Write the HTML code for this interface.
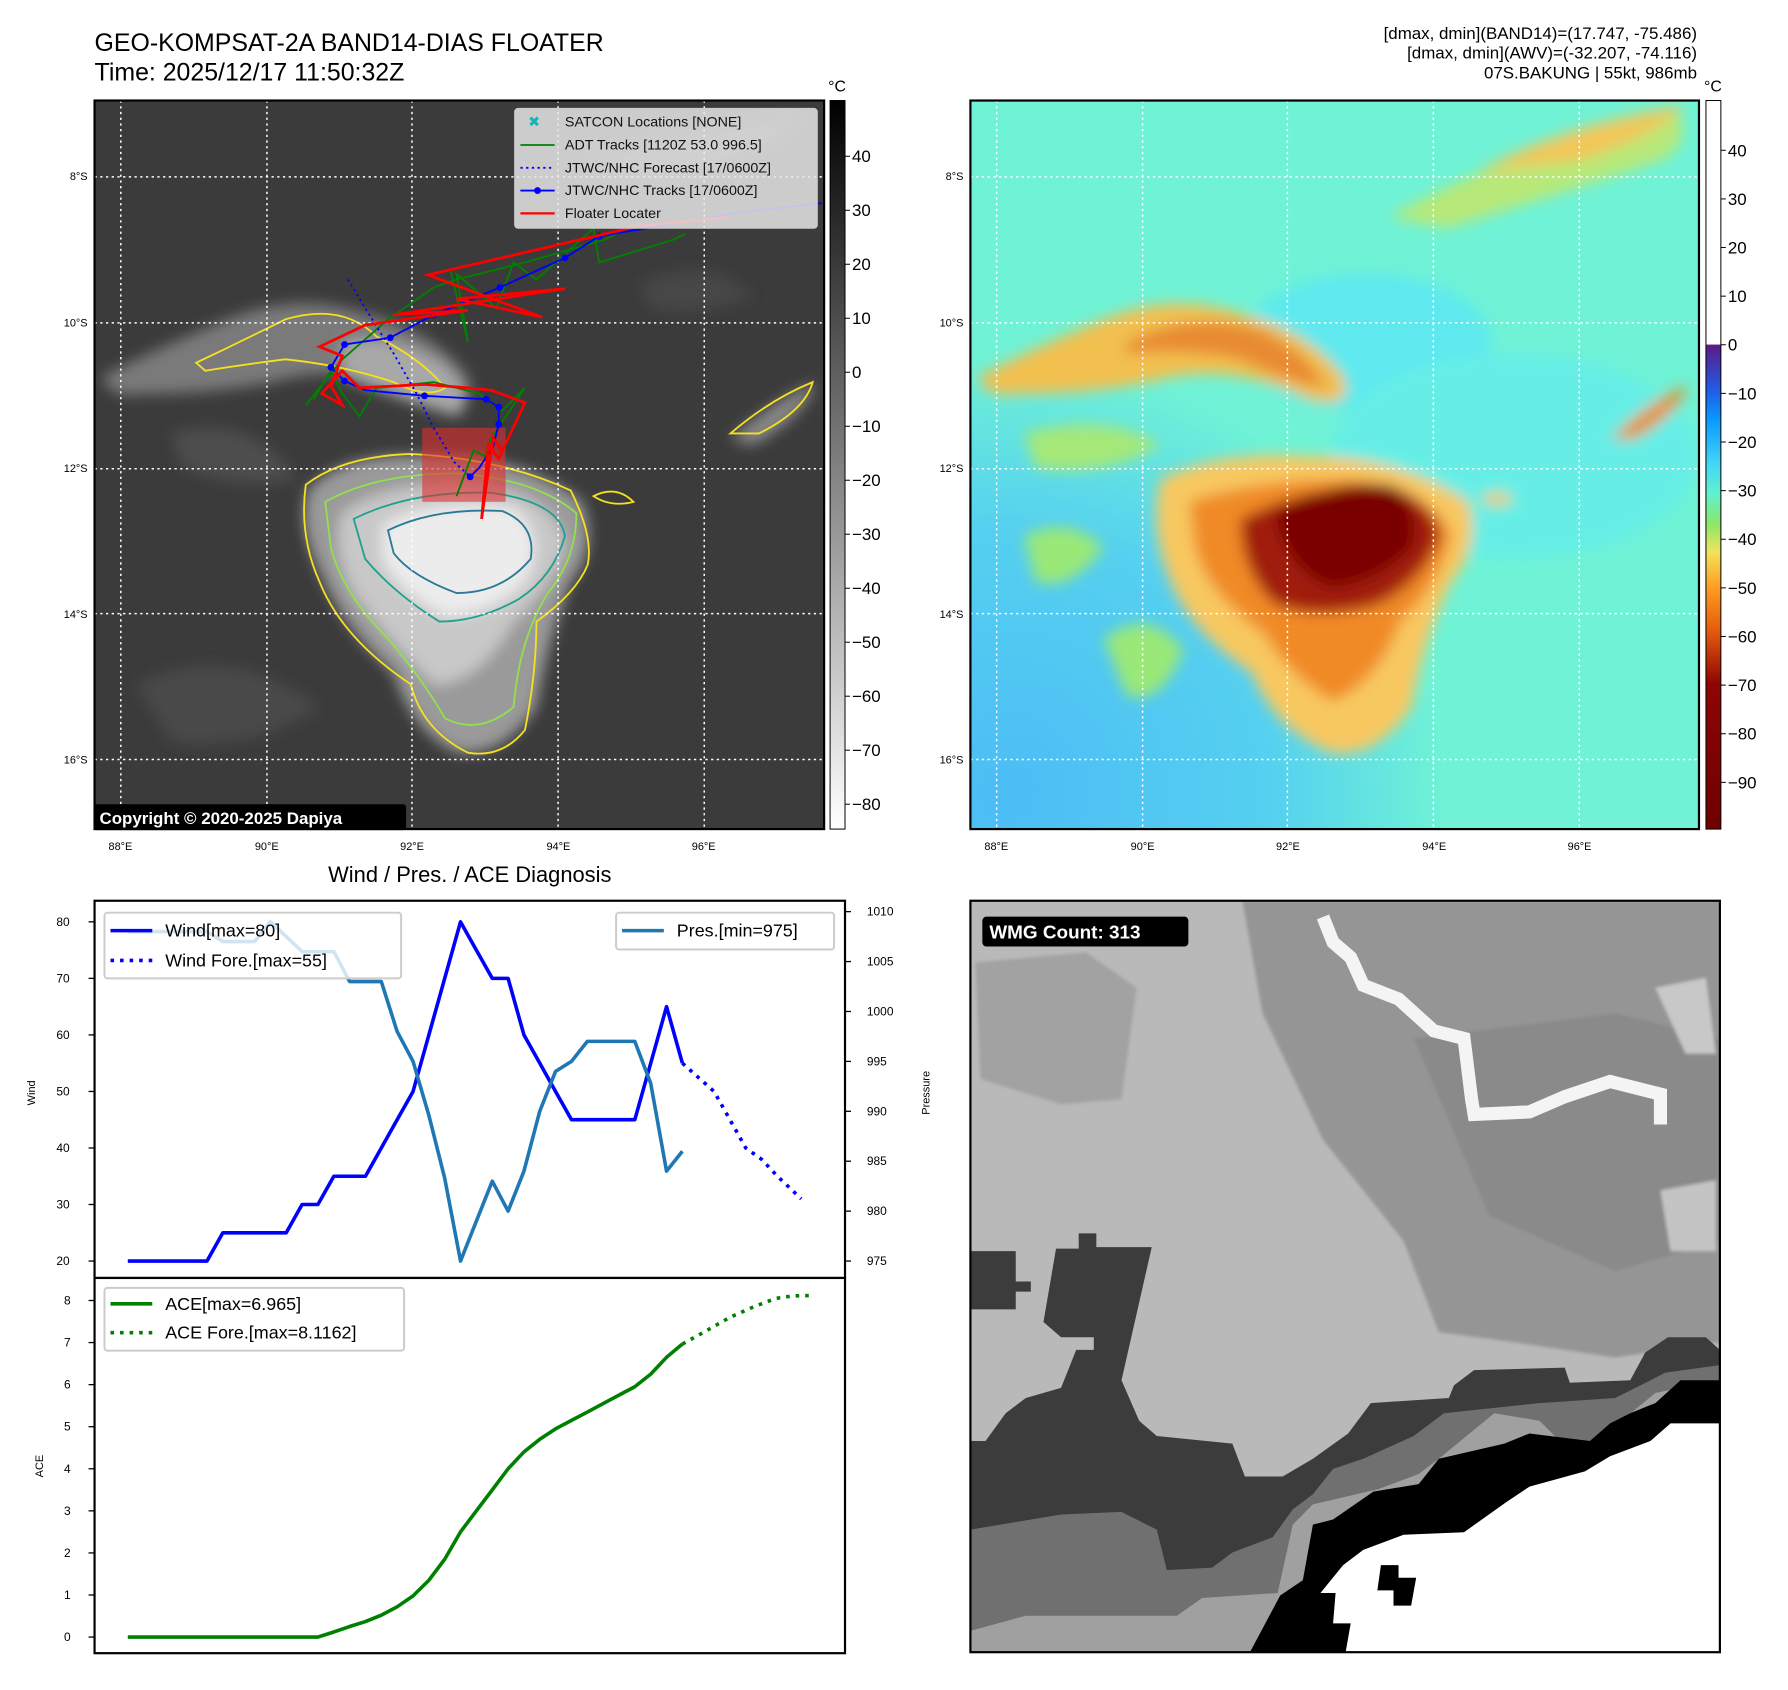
<!DOCTYPE html>
<html><head><meta charset="utf-8">
<style>
html,body{margin:0;padding:0;background:#fff;}
svg{display:block;font-family:"Liberation Sans","DejaVu Sans",sans-serif;}
</style></head>
<body>
<svg id="root" width="1788" height="1690" viewBox="0 0 1788 1690" xmlns="http://www.w3.org/2000/svg">
<defs>
  <filter id="blur6" x="-20%" y="-20%" width="140%" height="140%"><feGaussianBlur stdDeviation="6"/></filter>
  <filter id="blur3" x="-20%" y="-20%" width="140%" height="140%"><feGaussianBlur stdDeviation="3"/></filter>
  <linearGradient id="cbGray" x1="0" y1="0" x2="0" y2="1">
    <stop offset="0" stop-color="#000"/><stop offset="1" stop-color="#fff"/>
  </linearGradient>
  <linearGradient id="cbColor" x1="0" y1="0" x2="0" y2="1">
    <stop offset="0" stop-color="#fff"/><stop offset="0.334" stop-color="#fff"/>
    <stop offset="0.336" stop-color="#5b1a86"/><stop offset="0.40" stop-color="#1f5fe8"/>
    <stop offset="0.44" stop-color="#0a9cff"/><stop offset="0.50" stop-color="#46d6f5"/>
    <stop offset="0.54" stop-color="#60f2cf"/><stop offset="0.58" stop-color="#8be66a"/>
    <stop offset="0.62" stop-color="#f2e35a"/><stop offset="0.67" stop-color="#ff9a22"/>
    <stop offset="0.73" stop-color="#e25a0c"/><stop offset="0.80" stop-color="#8e0404"/>
    <stop offset="1" stop-color="#6e0000"/>
  </linearGradient>
  <radialGradient id="sw" cx="0.05" cy="0.95" r="0.6"><stop offset="0" stop-color="#4cbdf5"/><stop offset="0.6" stop-color="#55d0f0"/><stop offset="1" stop-color="#55d0f0" stop-opacity="0"/></radialGradient>
</defs>
<g id="all" transform="scale(0.9953)">

<text x="95" y="51" font-size="25" fill="#000">GEO-KOMPSAT-2A BAND14-DIAS FLOATER</text>
<text x="95" y="81" font-size="25" fill="#000">Time: 2025/12/17 11:50:32Z</text>
<g font-size="17" text-anchor="end" fill="#000">
  <text x="1705" y="39">[dmax, dmin](BAND14)=(17.747, -75.486)</text>
  <text x="1705" y="59">[dmax, dmin](AWV)=(-32.207, -74.116)</text>
  <text x="1705" y="79">07S.BAKUNG | 55kt, 986mb</text>
</g>

<!-- MAP 1 -->
<svg x="95" y="101" width="733" height="732" viewBox="83 88 639 639" preserveAspectRatio="none">
  <rect x="83" y="88" width="639" height="639" fill="#3b3b3b"/>
  <g filter="url(#blur6)">
    <path d="M90,330 Q150,300 200,280 Q260,255 320,275 Q380,290 410,330 Q420,360 380,350 Q320,320 260,330 Q200,345 130,345 Q95,350 90,330Z" fill="#7a7a7a"/>
    <path d="M300,300 Q340,290 390,320 Q420,350 400,365 Q350,350 300,330Z" fill="#a8a8a8"/>
    <path d="M270,430 Q300,395 380,400 Q460,400 510,440 Q525,480 500,510 Q480,560 470,620 Q440,665 400,660 Q360,640 345,590 Q300,550 280,500 Q260,460 270,430Z" fill="#9a9a9a"/>
    <path d="M300,450 Q340,420 420,425 Q490,435 495,480 Q480,520 450,545 Q420,600 380,600 Q340,560 310,520 Q290,480 300,450Z" fill="#c8c8c8"/>
    <path d="M335,460 Q380,435 450,445 Q480,470 460,510 Q430,540 390,540 Q350,520 335,490Z" fill="#ececec"/>
    <path d="M640,385 Q680,350 715,335 Q705,365 660,390Z" fill="#8a8a8a"/>
    <path d="M520,140 Q600,120 700,100 Q680,130 600,150 Q560,160 520,140Z" fill="#555"/>
    <path d="M120,600 Q200,560 280,620 Q220,660 150,650Z" fill="#4a4a4a"/>
    <path d="M150,380 Q220,360 260,420 Q210,430 160,410Z" fill="#4d4d4d"/>
    <path d="M560,250 Q620,220 660,260 Q610,280 570,270Z" fill="#474747"/>
  </g>
  <g fill="none" stroke-width="1.6">
    <path d="M268,425 Q300,400 360,398 Q440,402 500,430 Q520,470 515,495 Q505,520 470,545 Q470,590 460,640 Q440,665 410,660 Q370,640 360,600 Q300,560 280,510 Q262,470 268,425Z" stroke="#f5e020"/>
    <path d="M285,440 Q330,415 400,415 Q470,420 505,450 Q505,490 480,520 Q455,560 450,620 Q420,645 390,630 Q370,595 340,560 Q300,520 290,480Z" stroke="#90e050"/>
    <path d="M310,455 Q360,430 430,432 Q490,440 495,470 Q485,505 455,525 Q420,545 385,545 Q345,520 320,490Z" stroke="#20a090"/>
    <path d="M340,465 Q380,445 440,448 Q470,460 465,490 Q440,520 400,520 Q360,505 345,485Z" stroke="#2a7a95"/>
    <path d="M172,318 Q210,300 250,280 Q300,265 330,295 Q370,315 390,340 Q375,350 345,335 Q300,320 250,315 Q210,320 180,325Z" stroke="#f5e020"/>
    <path d="M640,380 Q675,350 712,335 Q705,360 665,380Z" stroke="#f5e020"/>
    <path d="M520,435 Q540,425 555,440 Q535,445 520,435Z" stroke="#f5e020"/>
  </g>
  <g stroke="#fff" stroke-width="1.3" stroke-dasharray="2,3">
    <line x1="106" y1="88" x2="106" y2="727"/><line x1="234" y1="88" x2="234" y2="727"/>
    <line x1="361" y1="88" x2="361" y2="727"/><line x1="489" y1="88" x2="489" y2="727"/>
    <line x1="617" y1="88" x2="617" y2="727"/>
    <line x1="83" y1="155" x2="722" y2="155"/><line x1="83" y1="283" x2="722" y2="283"/>
    <line x1="83" y1="411" x2="722" y2="411"/><line x1="83" y1="538" x2="722" y2="538"/>
    <line x1="83" y1="666" x2="722" y2="666"/>
  </g>
  <rect x="370" y="375" width="73" height="65" fill="#e03030" fill-opacity="0.6"/>
  <polyline points="268,355 300,315 340,280 380,252 400,245 460,230 530,210 560,195" fill="none" stroke="#008000" stroke-width="1.6"/>
  <polyline points="395,238 410,300 400,240 435,270 450,230 470,245 520,200 525,230 590,210 600,205" fill="none" stroke="#008000" stroke-width="1.6"/>
  <polyline points="275,350 290,325 300,345 315,365 330,340 380,335 420,345 440,360 455,345 460,340 430,385 425,400 415,395 400,435" fill="none" stroke="#008000" stroke-width="1.6"/>
  <polyline points="305,245 320,270 345,310 365,345 380,375 398,405 412,418" fill="none" stroke="#0000ff" stroke-width="1.6" stroke-dasharray="2,3"/>
  <polyline points="720,178 650,186 590,196 525,207 495,226 438,252 380,276 342,296 302,302 290,322 302,334 320,342 372,347 426,350 437,357 437,372 432,392 420,410 412,418" fill="none" stroke="#0000ff" stroke-width="1.6"/>
  <g fill="#0000ff">
    <circle cx="525" cy="207" r="3"/><circle cx="495" cy="226" r="3"/><circle cx="438" cy="252" r="3"/><circle cx="380" cy="276" r="3"/><circle cx="342" cy="296" r="3"/><circle cx="302" cy="302" r="3"/><circle cx="290" cy="322" r="3"/><circle cx="302" cy="334" r="3"/><circle cx="372" cy="347" r="3"/><circle cx="426" cy="350" r="3"/><circle cx="437" cy="357" r="3"/><circle cx="437" cy="372" r="3"/><circle cx="412" cy="418" r="3"/>
  </g>
  <polyline points="640,190 560,198 375,241 475,278 400,262 495,253 345,276 410,272 320,285 280,304 300,312 290,338 300,355 282,345 300,325 315,340 372,337 410,340 430,342 460,353 437,402 428,390 422,455 432,384 440,395" fill="none" stroke="#ff0000" stroke-width="2.4"/>
  <g>
    <rect x="451" y="95" width="265" height="105" rx="3" fill="#e6e6e6" fill-opacity="0.85" stroke="#ccc"/>
    <g font-size="12.5" fill="#111">
      <text x="468" y="111" fill="#11b5b5" font-weight="bold" text-anchor="middle">✖</text>
      <text x="495" y="111">SATCON Locations [NONE]</text>
      <line x1="456" y1="127" x2="486" y2="127" stroke="#008000" stroke-width="1.6"/>
      <text x="495" y="131">ADT Tracks [1120Z 53.0 996.5]</text>
      <line x1="456" y1="147" x2="486" y2="147" stroke="#0000ff" stroke-width="1.6" stroke-dasharray="2,3"/>
      <text x="495" y="151">JTWC/NHC Forecast [17/0600Z]</text>
      <line x1="456" y1="167" x2="486" y2="167" stroke="#0000ff" stroke-width="1.6"/><circle cx="471" cy="167" r="3" fill="#0000ff"/>
      <text x="495" y="171">JTWC/NHC Tracks [17/0600Z]</text>
      <line x1="456" y1="187" x2="486" y2="187" stroke="#ff0000" stroke-width="2"/>
      <text x="495" y="191">Floater Locater</text>
    </g>
  </g>
</svg>
<rect x="95" y="101" width="733" height="732" fill="none" stroke="#000" stroke-width="2.2"/>
<g>
  <rect x="94" y="808" width="314" height="26" rx="3" fill="#000"/>
  <text x="100" y="828" font-size="17" font-weight="bold" fill="#fff">Copyright © 2020-2025 Dapiya</text>
</g>

<!-- MAP 2 -->
<svg x="975" y="101" width="732" height="732" viewBox="83 88 639 639" preserveAspectRatio="none">
  <rect x="83" y="88" width="639" height="639" fill="#6ff2d6"/>
  <rect x="83" y="88" width="639" height="639" fill="url(#sw)"/>
  <g filter="url(#blur6)">
    <ellipse cx="430" cy="300" rx="110" ry="60" fill="#5fe9ee"/>
    <ellipse cx="560" cy="400" rx="160" ry="90" fill="#66eee6"/>
    <path d="M450,190 Q560,130 700,95 Q720,120 690,140 Q600,170 500,200Z" fill="#b8e878"/>
    <path d="M530,150 Q600,110 710,92 Q690,115 620,140Z" fill="#f3c658"/>
    <path d="M130,470 Q170,450 200,480 Q170,520 140,510Z" fill="#9ae878"/>
    <path d="M200,560 Q240,530 270,570 Q250,620 220,610Z" fill="#9ae878"/>
    <path d="M130,380 Q200,360 250,390 Q200,420 140,410Z" fill="#a5e878"/>
    <path d="M90,330 Q150,300 200,280 Q260,255 320,275 Q380,290 410,330 Q420,360 380,350 Q320,320 260,330 Q200,345 130,345 Q95,350 90,330Z" fill="#f2c050"/>
    <path d="M220,300 Q280,270 340,290 Q380,310 395,340 Q360,335 320,315 Q270,305 220,310Z" fill="#e88a30"/>
    <path d="M250,420 Q300,395 380,400 Q460,400 520,440 Q530,480 505,510 Q480,560 470,620 Q440,665 400,660 Q350,640 330,590 Q270,550 255,500 Q240,460 250,420Z" fill="#f8c860"/>
    <path d="M275,440 Q330,420 420,420 Q490,430 505,470 Q490,520 460,545 Q440,600 400,615 Q360,590 340,555 Q290,520 280,480Z" fill="#f08a28"/>
    <path d="M320,455 Q380,425 450,425 Q490,440 495,470 Q480,510 440,530 Q390,545 350,530 Q320,500 320,455Z" fill="#a01a08"/>
    <path d="M350,450 Q400,420 450,425 Q480,445 470,480 Q440,510 400,515 Q360,500 350,450Z" fill="#7a0000"/>
    <path d="M645,385 Q680,350 712,338 Q705,362 665,385Z" fill="#e8902c"/>
    <path d="M530,438 Q545,425 560,438 Q545,448 530,438Z" fill="#f3c658"/>
  </g>
  <g stroke="#fff" stroke-width="1.3" stroke-dasharray="2,3">
    <line x1="106" y1="88" x2="106" y2="727"/><line x1="234" y1="88" x2="234" y2="727"/>
    <line x1="361" y1="88" x2="361" y2="727"/><line x1="489" y1="88" x2="489" y2="727"/>
    <line x1="617" y1="88" x2="617" y2="727"/>
    <line x1="83" y1="155" x2="722" y2="155"/><line x1="83" y1="283" x2="722" y2="283"/>
    <line x1="83" y1="411" x2="722" y2="411"/><line x1="83" y1="538" x2="722" y2="538"/>
    <line x1="83" y1="666" x2="722" y2="666"/>
  </g>
</svg>
<rect x="975" y="101" width="732" height="732" fill="none" stroke="#000" stroke-width="2.2"/>

<g font-size="11" fill="#000">
  <g text-anchor="end">
    <text x="88" y="181">8°S</text><text x="88" y="328">10°S</text><text x="88" y="474">12°S</text><text x="88" y="621">14°S</text><text x="88" y="767">16°S</text>
    <text x="968" y="181">8°S</text><text x="968" y="328">10°S</text><text x="968" y="474">12°S</text><text x="968" y="621">14°S</text><text x="968" y="767">16°S</text>
  </g>
  <g text-anchor="middle">
    <text x="121" y="854">88°E</text><text x="268" y="854">90°E</text><text x="414" y="854">92°E</text><text x="561" y="854">94°E</text><text x="707" y="854">96°E</text>
    <text x="1001" y="854">88°E</text><text x="1148" y="854">90°E</text><text x="1294" y="854">92°E</text><text x="1441" y="854">94°E</text><text x="1587" y="854">96°E</text>
  </g>
</g>

<g>
  <rect x="834" y="101" width="15" height="732" fill="url(#cbGray)" stroke="#000" stroke-width="1"/>
  <text x="841" y="92" font-size="16" text-anchor="middle">°C</text>
  <g id="cb1ticks" font-size="17"></g>
</g>
<g>
  <rect x="1714" y="101" width="15" height="732" fill="url(#cbColor)" stroke="#000" stroke-width="1"/>
  <text x="1721" y="92" font-size="16" text-anchor="middle">°C</text>
  <g id="cb2ticks" font-size="17"></g>
</g>

<text x="472" y="886" font-size="22" text-anchor="middle">Wind / Pres. / ACE Diagnosis</text>
<g id="windChart"></g>
<g id="aceChart"></g>

<!-- WMG panel -->
<svg x="975" y="905" width="753" height="755" viewBox="20 28 1488 1484" preserveAspectRatio="none">
  <rect x="20" y="28" width="1488" height="1484" fill="#b9b9b9"/>
  <g filter="url(#blur3)">
    <polygon points="560,28 1508,28 1508,900 1300,930 1100,900 950,880 880,700 720,500 600,250" fill="#959595"/>
    <polygon points="900,300 1300,250 1508,300 1508,700 1300,760 1050,650" fill="#8a8a8a"/>
    <polygon points="30,150 250,130 350,200 320,420 200,430 40,380" fill="#a2a2a2"/>
    <polygon points="1380,200 1480,180 1500,330 1440,330" fill="#c8c8c8"/>
    <polygon points="1390,600 1500,580 1500,720 1410,720" fill="#c4c4c4"/>
  </g>
  <polyline points="720,60 740,110 775,140 800,195 870,222 940,285 1000,300 1015,420 1020,450 1130,445 1200,415 1290,385 1390,410 1390,470" fill="none" stroke="#f4f4f4" stroke-width="26"/>
  <polygon points="20,720 110,720 110,780 140,780 140,800 110,800 110,835 20,835" fill="#3c3c3c"/>
  <polygon points="20,1095 50,1095 90,1040 130,1010 200,990 230,915 265,915 265,890 200,890 165,860 190,715 235,715 235,685 270,685 270,712 380,712 320,975 355,1055 390,1085 540,1100 565,1165 640,1165 700,1130 770,1080 815,1020 970,1010 980,985 1020,955 1200,950 1210,980 1330,975 1360,920 1405,890 1480,890 1508,915 1508,1512 20,1512" fill="#3c3c3c"/>
  <polygon points="20,1270 200,1240 320,1235 390,1270 410,1350 500,1345 540,1315 620,1285 660,1230 700,1200 740,1150 800,1130 900,1085 960,1040 1150,1020 1300,1010 1350,985 1400,960 1508,945 1508,1512 20,1512" fill="#707070"/>
  <polygon points="20,1470 130,1440 330,1440 430,1440 480,1405 630,1395 660,1260 700,1220 830,1190 910,1160 950,1130 1060,1040 1150,1055 1190,1095 1260,1095 1300,1065 1380,1000 1508,975 1508,1512 20,1512" fill="#a0a0a0"/>
  <polygon points="575,1512 635,1400 680,1370 700,1260 740,1250 820,1195 910,1180 950,1130 1080,1100 1130,1080 1250,1095 1290,1060 1330,1040 1380,1020 1430,975 1508,975 1508,1512" fill="#000"/>
  <polygon points="765,1512 775,1455 740,1455 745,1395 715,1395 760,1340 800,1310 880,1280 1000,1275 1085,1215 1130,1185 1240,1155 1290,1125 1370,1095 1410,1060 1508,1060 1508,1512" fill="#fff"/>
  <polygon points="835,1340 870,1340 870,1365 905,1365 895,1420 860,1420 860,1390 828,1390" fill="#000"/>
</svg>
<rect x="975" y="905" width="753" height="755" fill="none" stroke="#000" stroke-width="2.2"/>
<g>
  <rect x="987" y="921" width="207" height="30" rx="4" fill="#000"/>
  <text x="994" y="943" font-size="19" font-weight="bold" fill="#fff">WMG Count: 313</text>
</g>
</g>
</svg>

<script>
var NS = "http://www.w3.org/2000/svg";
var windIdx = [0,1,2,3,4,5,6,7,8,9,10,11,12,13,14,15,16,17,18,19,20,21,22,23,24,25,26,27,28,29,30,31,32,33,34,35];
var windVals = [20,20,20,20,20,20,25,25,25,25,25,30,30,35,35,35,40,45,50,60,70,80,75,70,70,60,55,50,45,45,45,45,45,55,65,55];
var presVals = [1008,1008,1008,1008,1008,1008,1007,1007,1007,1009,1007.5,1006,1006,1006,1003,1003,1003,998,995,989.6,983.3,975,979,983,980,984,990,994,995,997,997,997,997,992.8,984,986];
var windForeIdx = [35,37,38,39,40,41,42.5];
var windForeVals = [55,50,45,40,38,35,31];
var aceVals = [0,0,0,0,0,0,0,0,0,0,0,0,0,0.12,0.25,0.37,0.52,0.72,0.98,1.35,1.85,2.5,3.0,3.5,4.0,4.4,4.7,4.95,5.15,5.35,5.55,5.75,5.95,6.25,6.65,6.965];
var aceForeIdx = [35,36.6,38,39.5,40.9,42,43.1];
var aceForeVals = [6.965,7.3,7.6,7.85,8.05,8.11,8.116];
var windTicks = [20,30,40,50,60,70,80];
var presTicks = [975,980,985,990,995,1000,1005,1010];
var aceTicks = [0,1,2,3,4,5,6,7,8];
var cb1Ticks = [40,30,20,10,0,-10,-20,-30,-40,-50,-60,-70,-80];
var cb2Ticks = [40,30,20,10,0,-10,-20,-30,-40,-50,-60,-70,-80,-90];

function xIdx(i){ return 128.4 + i*15.92; }
function yWind(v){ return 1267 - (v-20)*5.68; }
function yPres(p){ return 1267 - (p-975)*10.03; }
function yAce(a){ return 1644.8 - a*42.27; }
function yCb1(v){ return 157 + (40-v)*5.425; }
function yCb2(v){ return 151 + (40-v)*4.885; }

function mk(tag, attrs, parent){
  var e = document.createElementNS(NS, tag);
  for (var k in attrs) e.setAttribute(k, attrs[k]);
  parent.appendChild(e);
  return e;
}
function pts(xs, ys, fx, fy){
  var s=[]; for (var i=0;i<ys.length;i++) s.push(fx(xs[i]).toFixed(1)+","+fy(ys[i]).toFixed(1)); return s.join(" ");
}
function lab(v){ return v<0 ? "\u2212"+(-v) : String(v); }

var g1 = document.getElementById("cb1ticks");
cb1Ticks.forEach(function(v){
  var y = yCb1(v);
  var l = mk("line",{x1:849,x2:854,y1:y,y2:y,stroke:"#000"},g1);
  
  
  var t = mk("text",{x:856,y:y+6},g1);
  
  
  t.textContent = lab(v);
});
var g2 = document.getElementById("cb2ticks");
cb2Ticks.forEach(function(v){
  var y = yCb2(v);
  var l = mk("line",{x1:1729,x2:1734,y1:y,y2:y,stroke:"#000"},g2);
  
  
  var t = mk("text",{x:1736,y:y+6},g2);
  
  
  t.textContent = lab(v);
});

var wc = document.getElementById("windChart");
var frame = mk("rect",{x:95,y:905,width:754,height:379,fill:"#fff",stroke:"#000","stroke-width":2.2},wc);


windTicks.forEach(function(v){
  var y=yWind(v);
  var l = mk("line",{x1:89,x2:95,y1:y,y2:y,stroke:"#000","stroke-width":1.3},wc);
  
  
  var t = mk("text",{x:70,y:y+4,"font-size":12,"text-anchor":"end"},wc);
  
  
  t.textContent=v;
});
presTicks.forEach(function(v){
  var y=yPres(v);
  var l = mk("line",{x1:849,x2:855,y1:y,y2:y,stroke:"#000","stroke-width":1.3},wc);
  
  
  var t = mk("text",{x:871,y:y+4,"font-size":12},wc);
  
  
  t.textContent=v;
});
var wl = mk("text",{x:35,y:1098,"font-size":11,"text-anchor":"middle",transform:"rotate(-90 35 1098)"},wc);


wl.textContent="Wind";
var pl = mk("text",{x:934,y:1098,"font-size":11,"text-anchor":"middle",transform:"rotate(-90 934 1098)"},wc);


pl.textContent="Pressure";

var windLine = mk("polyline",{points:pts(windIdx,windVals,xIdx,yWind),fill:"none",stroke:"#0000ff","stroke-width":3.6,"stroke-linejoin":"round"},wc);


var windFore = mk("polyline",{points:pts(windForeIdx,windForeVals,xIdx,yWind),fill:"none",stroke:"#0000ff","stroke-width":3.6,"stroke-dasharray":"3.6,6"},wc);


var presLine = mk("polyline",{points:pts(windIdx,presVals,xIdx,yPres),fill:"none",stroke:"#1f77b4","stroke-width":3.6,"stroke-linejoin":"round"},wc);



var lg1 = mk("g",{},wc);


mk("rect",{x:105,y:917,width:298,height:66,rx:3,fill:"#fff","fill-opacity":0.8,stroke:"#ccc","stroke-width":2},lg1);
mk("line",{x1:111,x2:153,y1:935,y2:935,stroke:"#0000ff","stroke-width":3.6},lg1);
mk("line",{x1:111,x2:153,y1:965,y2:965,stroke:"#0000ff","stroke-width":3.6,"stroke-dasharray":"3.6,6"},lg1);
var lt1 = mk("text",{x:166,y:941,"font-size":18},lg1); lt1.textContent="Wind[max=80]";
var lt2 = mk("text",{x:166,y:971,"font-size":18},lg1); lt2.textContent="Wind Fore.[max=55]";
var lg2 = mk("g",{},wc);


mk("rect",{x:619,y:917,width:219,height:37,rx:3,fill:"#fff","fill-opacity":0.8,stroke:"#ccc","stroke-width":2},lg2);
mk("line",{x1:625,x2:667,y1:935,y2:935,stroke:"#1f77b4","stroke-width":3.6},lg2);
var lt3 = mk("text",{x:680,y:941,"font-size":18},lg2); lt3.textContent="Pres.[min=975]";

var ac = document.getElementById("aceChart");
var frame2 = mk("rect",{x:95,y:1284,width:754,height:377,fill:"#fff",stroke:"#000","stroke-width":2.2},ac);


aceTicks.forEach(function(v){
  var y=yAce(v);
  var l = mk("line",{x1:89,x2:95,y1:y,y2:y,stroke:"#000","stroke-width":1.3},ac);
  
  
  var t = mk("text",{x:71,y:y+4,"font-size":12,"text-anchor":"end"},ac);
  
  
  t.textContent=v;
});
var al = mk("text",{x:43,y:1473,"font-size":11,"text-anchor":"middle",transform:"rotate(-90 43 1473)"},ac);


al.textContent="ACE";
var aceLine = mk("polyline",{points:pts(windIdx,aceVals,xIdx,yAce),fill:"none",stroke:"#008000","stroke-width":3.6,"stroke-linejoin":"round"},ac);


var aceFore = mk("polyline",{points:pts(aceForeIdx,aceForeVals,xIdx,yAce),fill:"none",stroke:"#008000","stroke-width":3.6,"stroke-dasharray":"3.6,6"},ac);


var lg3 = mk("g",{},ac);


mk("rect",{x:105,y:1294,width:301,height:63,rx:3,fill:"#fff","fill-opacity":0.8,stroke:"#ccc","stroke-width":2},lg3);
mk("line",{x1:111,x2:153,y1:1310,y2:1310,stroke:"#008000","stroke-width":3.6},lg3);
mk("line",{x1:111,x2:153,y1:1339,y2:1339,stroke:"#008000","stroke-width":3.6,"stroke-dasharray":"3.6,6"},lg3);
var lt4 = mk("text",{x:166,y:1316,"font-size":18},lg3); lt4.textContent="ACE[max=6.965]";
var lt5 = mk("text",{x:166,y:1345,"font-size":18},lg3); lt5.textContent="ACE Fore.[max=8.1162]";
</script>
</body></html>
